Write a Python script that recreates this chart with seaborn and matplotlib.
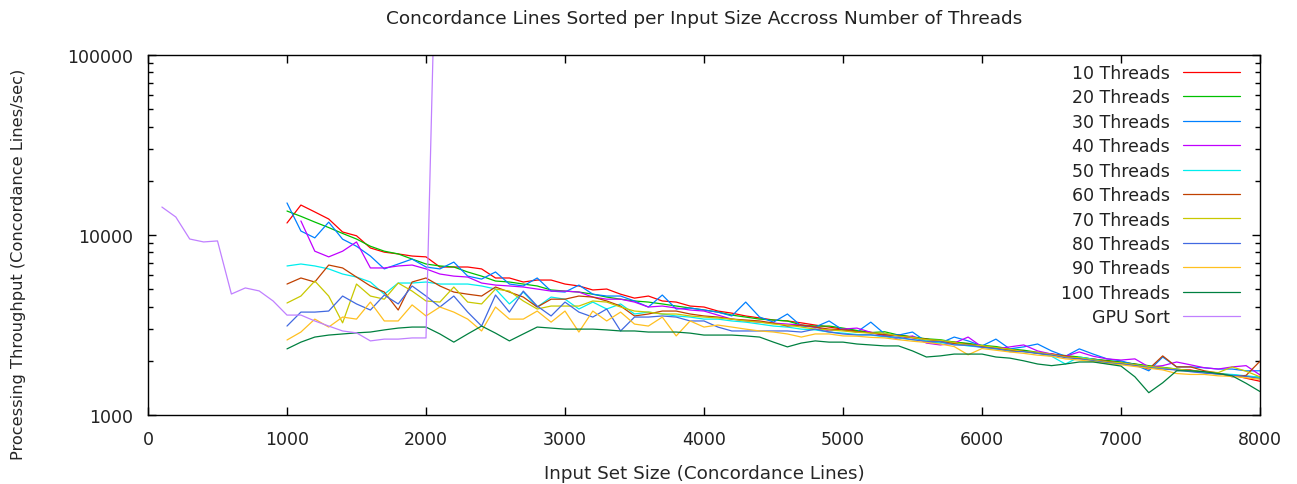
import matplotlib
matplotlib.use("Agg")
import matplotlib.pyplot as plt
import matplotlib.ticker as mticker
import seaborn as sns
import pandas as pd

# input sizes (concordance lines)
sizes = list(range(1000, 8001, 100))
sizes_40 = list(range(1100, 8001, 100))
gpu_sizes = list(range(100, 2101, 100))

# throughput (concordance lines / sec)
t10 = [11660, 14670, 13430, 12270, 10390, 9900, 8470, 8030, 7850, 7640,
       7560, 6640, 6640, 6640, 6480, 5770, 5770, 5480, 5620, 5620,
       5340, 5210, 4950, 5010, 4690, 4460, 4580, 4300, 4240, 4030,
       3980, 3780, 3680, 3550, 3460, 3370, 3330, 3250, 3160, 3080,
       3000, 2930, 2880, 2800, 2790, 2700, 2640, 2570, 2540, 2480,
       2420, 2380, 2300, 2270, 2210, 2190, 2120, 2080, 2050, 1990,
       1960, 1920, 1850, 1830, 1780, 1780, 1720, 1690, 1670, 1600,
       1540]
t20 = [13590, 12700, 11800, 11000, 10200, 9500, 8660, 8130, 7850, 7350,
       6900, 6730, 6640, 6230, 5910, 5550, 5480, 5340, 5210, 4950,
       4880, 4820, 4690, 4520, 4400, 4300, 4240, 4140, 4030, 3930,
       3830, 3730, 3590, 3500, 3410, 3370, 3330, 3160, 3120, 3120,
       3040, 2950, 2870, 2900, 2780, 2720, 2650, 2620, 2540, 2500,
       2440, 2400, 2330, 2290, 2230, 2170, 2140, 2100, 2040, 2010,
       1970, 1920, 1880, 1840, 1800, 1760, 1740, 1700, 1670, 1640,
       1620]
t30 = [15070, 10520, 9640, 11790, 9480, 8660, 7640, 6480, 6900, 7350,
       6640, 6480, 7070, 5910, 5690, 6230, 5340, 5210, 5770, 4880,
       4820, 5270, 4690, 4580, 4580, 4300, 3980, 4640, 3880, 3930,
       3830, 3730, 3550, 4240, 3500, 3280, 3640, 3120, 3080, 3330,
       2960, 2890, 3280, 2820, 2780, 2890, 2550, 2510, 2710, 2580,
       2420, 2640, 2330, 2390, 2480, 2270, 2120, 2330, 2180, 2050,
       2000, 1900, 1760, 2100, 1850, 1850, 1830, 1800, 1800, 1760,
       1760]
t40 = [11970, 8130, 7560, 8130, 9150, 6560, 6560, 6730, 6810,
       6480, 6070, 5910, 5840, 5410, 5270, 5210, 5140, 5010, 4880,
       4880, 4820, 4520, 4400, 4400, 4240, 3980, 4030, 3930, 3830,
       3780, 3590, 3410, 3330, 3280, 3240, 3200, 3160, 3080, 2930,
       3000, 3040, 2880, 2750, 2640, 2750, 2510, 2450, 2510, 2710,
       2390, 2330, 2390, 2450, 2270, 2180, 2120, 2240, 2120, 2050,
       2020, 2050, 1850, 1880, 1970, 1900, 1830, 1800, 1850, 1880,
       1670]
t50 = [6730, 6900, 6730, 6480, 6070, 5840, 5480, 4690, 5410, 5410,
       5480, 5340, 5340, 5340, 5210, 5010, 4140, 4820, 3980, 4520,
       4400, 3880, 4240, 3880, 4140, 3640, 3730, 3640, 3550, 3500,
       3410, 3410, 3330, 3280, 3200, 3120, 3080, 3000, 2970, 2890,
       2850, 2800, 2780, 2720, 2680, 2620, 2600, 2520, 2480, 2420,
       2380, 2320, 2280, 2250, 2200, 2120, 1920, 2100, 2040, 1980,
       1940, 1900, 1850, 1820, 1790, 1750, 1720, 1690, 1680, 1650,
       1620]
t60 = [5340, 5770, 5480, 6810, 6560, 5840, 5210, 4820, 3830, 5480,
       5770, 5210, 4820, 4690, 4580, 5140, 4820, 4520, 3980, 4400,
       4400, 4580, 4520, 4300, 4030, 3550, 3640, 3780, 3780, 3640,
       3550, 3500, 3410, 3370, 3330, 3240, 3120, 3160, 3080, 3000,
       2970, 2900, 2860, 2780, 2760, 2680, 2640, 2560, 2500, 2470,
       2400, 2360, 2300, 2260, 2210, 2160, 2130, 2060, 2020, 1990,
       1940, 1900, 1800, 2130, 1850, 1850, 1760, 1710, 1630, 1660,
       1990]
t70 = [4190, 4580, 5550, 4580, 3250, 5340, 4580, 4400, 5410, 4880,
       4300, 4240, 5140, 4240, 4140, 5010, 4880, 4300, 3880, 4030,
       4030, 4030, 4300, 4240, 3980, 3780, 3730, 3640, 3640, 3550,
       3500, 3460, 3410, 3330, 3280, 3200, 3160, 3080, 3000, 2970,
       2930, 2880, 2850, 2850, 2740, 2700, 2620, 2600, 2530, 2450,
       2430, 2370, 2320, 2250, 2230, 2170, 2100, 2080, 2020, 1970,
       1950, 1900, 1860, 1830, 1800, 1760, 1740, 1720, 1850, 1750,
       1630]
t80 = [3120, 3730, 3730, 3780, 4580, 4140, 3830, 4640, 4140, 5210,
       4580, 3980, 4580, 3730, 3120, 4640, 3730, 4880, 4030, 3550,
       4240, 3730, 3500, 3880, 2930, 3500, 3500, 3550, 3500, 3330,
       3330, 3080, 2930, 2930, 2930, 2930, 2930, 2890, 3000, 2890,
       2820, 2780, 2790, 2740, 2700, 2620, 2560, 2560, 2450, 2440,
       2380, 2340, 2250, 2250, 2200, 2150, 2080, 2050, 2000, 1950,
       1920, 1880, 1830, 1800, 1780, 1740, 1710, 1690, 1660, 1640,
       1590]
t90 = [2610, 2890, 3410, 3080, 3500, 3410, 4240, 3330, 3330, 4090,
       3550, 3980, 3730, 3410, 2930, 3980, 3410, 3410, 3780, 3280,
       3780, 2890, 3780, 3330, 3730, 3200, 3120, 3500, 2750, 3330,
       3080, 3160, 3080, 3000, 2930, 2890, 2820, 2710, 2820, 2820,
       2750, 2740, 2700, 2680, 2620, 2570, 2530, 2480, 2400, 2160,
       2340, 2290, 2240, 2200, 2150, 2120, 2050, 2020, 1980, 1930,
       1900, 1860, 1820, 1780, 1700, 1680, 1680, 1650, 1640, 1610,
       1580]
t100 = [2330, 2540, 2710, 2780, 2820, 2860, 2890, 2970, 3040, 3080,
        3080, 2820, 2540, 2820, 3120, 2850, 2580, 2820, 3080, 3040,
        3000, 3000, 3000, 2970, 2930, 2930, 2890, 2890, 2890, 2850,
        2780, 2780, 2780, 2750, 2710, 2540, 2390, 2510, 2580, 2540,
        2540, 2480, 2450, 2420, 2420, 2270, 2100, 2130, 2180, 2180,
        2180, 2100, 2070, 2000, 1920, 1880, 1920, 1970, 1970, 1920,
        1870, 1630, 1330, 1510, 1760, 1760, 1740, 1700, 1650, 1500,
        1350]
gpu = [14300, 12590, 9500, 9150, 9270, 4700, 5080, 4890, 4300, 3590,
       3590, 3330, 3120, 2930, 2860, 2580, 2640, 2640, 2680, 2680,
       3700000]

series = [
    ("10 Threads", sizes, t10, "#ff0000"),
    ("20 Threads", sizes, t20, "#00c000"),
    ("30 Threads", sizes, t30, "#0080ff"),
    ("40 Threads", sizes_40, t40, "#c000ff"),
    ("50 Threads", sizes, t50, "#00eeee"),
    ("60 Threads", sizes, t60, "#c04000"),
    ("70 Threads", sizes, t70, "#c8c800"),
    ("80 Threads", sizes, t80, "#4169e1"),
    ("90 Threads", sizes, t90, "#ffc020"),
    ("100 Threads", sizes, t100, "#008040"),
    ("GPU Sort", gpu_sizes, gpu, "#c080ff"),
]

frames = [pd.DataFrame({"size": xs, "rate": ys, "series": name}) for name, xs, ys, _ in series]
df = pd.concat(frames, ignore_index=True)
order = [s[0] for s in series]
palette = {name: color for name, _, _, color in series}

sns.set_theme(style="ticks")
plt.rcParams["font.family"] = ["DejaVu Sans"]
plt.rcParams["text.color"] = "#222222"
plt.rcParams["xtick.color"] = "black"
plt.rcParams["ytick.color"] = "black"
plt.rcParams["xtick.labelcolor"] = "#222222"
plt.rcParams["ytick.labelcolor"] = "#222222"

FS = 12.5

fig = plt.figure(figsize=(12.97, 4.85), dpi=100)
ax = fig.add_axes([148 / 1297, 1 - 416 / 485, 1112 / 1297, 360 / 485])

sns.lineplot(data=df, x="size", y="rate", hue="series", hue_order=order,
             palette=palette, estimator=None, linewidth=0.9, ax=ax)

ax.set_yscale("log")
ax.set_xlim(0, 8000)
ax.set_ylim(1000, 100000)
ax.set_xticks(range(0, 8001, 1000))
ax.yaxis.set_major_locator(mticker.FixedLocator([1000, 10000, 100000]))
ax.yaxis.set_major_formatter(mticker.FormatStrFormatter("%d"))
ax.yaxis.set_minor_locator(mticker.LogLocator(base=10, subs=range(2, 10)))
ax.yaxis.set_minor_formatter(mticker.NullFormatter())

ax.tick_params(which="both", direction="in", top=True, right=True, labelsize=FS)
ax.tick_params(which="major", length=6, width=1, pad=11)
ax.tick_params(which="minor", length=3.5, width=1)
for sp in ax.spines.values():
    sp.set_color("black")
    sp.set_linewidth(1)

ax.set_title("Concordance Lines Sorted per Input Size Accross Number of Threads",
             fontsize=13.3, pad=23)
ax.set_xlabel("Input Set Size (Concordance Lines)", fontsize=13.2)
ax.set_ylabel("Processing Throughput (Concordance Lines/sec)", fontsize=11.7)
ax.xaxis.set_label_coords(0.5, -0.135)
ax.yaxis.set_label_coords(-0.11, 0.422)

handles, labels = ax.get_legend_handles_labels()
ax.legend(handles, labels, loc="upper right", bbox_to_anchor=(0.982, 0.975),
          frameon=False, markerfirst=False, handlelength=3.3, handletextpad=0.75,
          labelspacing=0.37, borderpad=0, borderaxespad=0, fontsize=FS)

fig.savefig("out.png", dpi=100)
